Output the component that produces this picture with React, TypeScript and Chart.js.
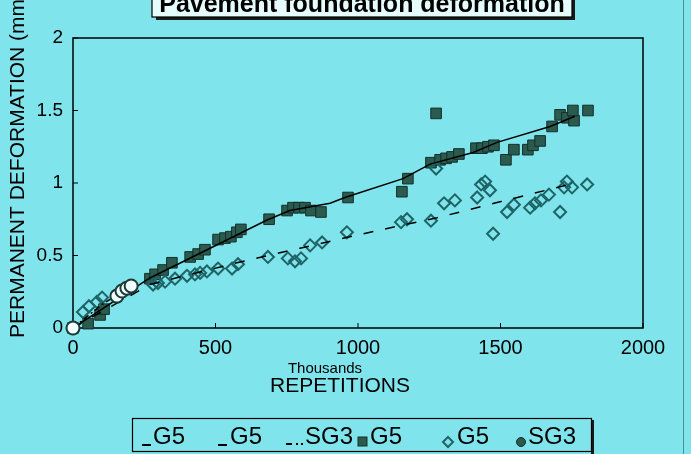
import React, { useEffect, useRef } from "react";
import { Chart, registerables } from "chart.js";

Chart.register(...registerables);

// ---- data (x in thousands of repetitions, y in mm) ----
const squareX = [0, 53, 95, 109, 270, 288, 316, 347, 411, 439, 463, 509, 533, 554, 575, 589, 688, 751, 772, 793, 814, 835, 870, 965, 1154, 1175, 1256, 1274, 1288, 1309, 1330, 1354, 1414, 1435, 1456, 1477, 1519, 1547, 1596, 1614, 1639, 1681, 1709, 1733, 1758, 1754, 1807];
const squareY = [0, 0.03, 0.09, 0.13, 0.34, 0.37, 0.40, 0.45, 0.49, 0.51, 0.54, 0.61, 0.62, 0.63, 0.66, 0.68, 0.75, 0.81, 0.83, 0.83, 0.83, 0.81, 0.80, 0.90, 0.94, 1.03, 1.14, 1.48, 1.16, 1.17, 1.18, 1.20, 1.24, 1.24, 1.25, 1.26, 1.16, 1.23, 1.23, 1.26, 1.29, 1.39, 1.47, 1.45, 1.43, 1.50, 1.50];

const diamondX = [0, 35, 56, 84, 102, 281, 298, 323, 358, 400, 428, 446, 470, 509, 558, 579, 684, 754, 779, 800, 832, 874, 961, 1151, 1172, 1256, 1274, 1302, 1340, 1418, 1432, 1446, 1463, 1474, 1523, 1547, 1604, 1621, 1642, 1670, 1709, 1723, 1733, 1751, 1804];
const diamondY = [0, 0.11, 0.15, 0.18, 0.21, 0.30, 0.31, 0.32, 0.34, 0.36, 0.37, 0.38, 0.39, 0.41, 0.41, 0.44, 0.49, 0.48, 0.46, 0.48, 0.57, 0.59, 0.66, 0.73, 0.75, 0.74, 1.10, 0.86, 0.88, 0.90, 0.99, 1.01, 0.95, 0.65, 0.80, 0.85, 0.83, 0.86, 0.88, 0.92, 0.80, 0.97, 1.01, 0.97, 0.99];

const sg3X = [0, 154, 172, 189, 204];
const sg3Y = [0, 0.22, 0.255, 0.275, 0.29];

const squareLineX = [0, 270, 481, 681, 761, 902, 954, 1158, 1253, 1404, 1488, 1674, 1761];
const squareLineY = [0, 0.345, 0.55, 0.745, 0.81, 0.86, 0.9, 1.03, 1.13, 1.21, 1.28, 1.39, 1.46];

const diamondLineX = [0, 270, 586, 796, 1063, 1277, 1498, 1761];
const diamondLineY = [0, 0.3, 0.455, 0.55, 0.67, 0.76, 0.87, 1.0];

const sg3LineX = [0, 100, 204];
const sg3LineY = [0, 0.16, 0.29];

const seriesLabels = ["G5", "G5", "SG3", "G5", "G5", "SG3"];
const xTicks = [0, 500, 1000, 1500, 2000];
const yTicks = [0, 0.5, 1, 1.5, 2];

const TITLE = "Pavement foundation deformation";
const Y_TITLE = "PERMANENT DEFORMATION (mm)";
const X_SUBTITLE = "Thousands";
const X_TITLE = "REPETITIONS";

const BG = "#80e4ec";
const FONT = "'Liberation Sans', Arial, sans-serif";

const pts = (xs: number[], ys: number[]) => xs.map((x, i) => ({ x, y: ys[i] }));

const decor = {
  id: "decor",
  beforeDraw(chart: any) {
    const c = chart.ctx;
    c.save();
    c.fillStyle = BG;
    c.fillRect(0, 0, chart.width, chart.height);
    c.restore();
  },
  beforeDatasetsDraw(chart: any) {
    const c = chart.ctx;
    const a = chart.chartArea;
    const xs = chart.scales.x;
    const ys = chart.scales.y;
    c.save();
    c.strokeStyle = "#000";
    c.lineWidth = 1.5;
    c.strokeRect(a.left, a.top, a.right - a.left, a.bottom - a.top);
    c.lineWidth = 1;
    xTicks.forEach((v) => {
      const px = xs.getPixelForValue(v);
      c.beginPath();
      c.moveTo(px, a.bottom);
      c.lineTo(px, a.bottom - 5);
      c.stroke();
    });
    yTicks.forEach((v) => {
      const py = ys.getPixelForValue(v);
      c.beginPath();
      c.moveTo(a.left, py);
      c.lineTo(a.left + 5, py);
      c.stroke();
    });
    c.restore();
  },
  afterDraw(chart: any) {
    const c = chart.ctx;
    c.save();
    c.strokeStyle = "#4d8f96";
    c.lineWidth = 1;
    c.beginPath();
    c.moveTo(683.5, 0);
    c.lineTo(683.5, chart.height);
    c.stroke();

    // title box (partly off the top)
    c.fillStyle = "#1a1a1a";
    c.fillRect(156, -10, 419, 30);
    c.fillStyle = "#e6fbfb";
    c.fillRect(152, -12, 420, 29);
    c.strokeStyle = "#000";
    c.lineWidth = 1.2;
    c.strokeRect(152, -12, 420, 29);
    c.fillStyle = "#000";
    c.font = `bold 25px ${FONT}`;
    c.textAlign = "center";
    c.textBaseline = "alphabetic";
    c.fillText(TITLE, 362, 12);

    // axis titles
    c.font = `21px ${FONT}`;
    c.save();
    c.translate(18, 165);
    c.rotate(-Math.PI / 2);
    c.textBaseline = "middle";
    c.fillText(Y_TITLE, 0, 0);
    c.restore();
    c.textBaseline = "middle";
    c.font = `15px ${FONT}`;
    c.fillText(X_SUBTITLE, 325, 369);
    c.font = `21px ${FONT}`;
    c.fillText(X_TITLE, 340, 386);

    // legend box
    c.fillStyle = "#1a1a1a";
    c.fillRect(591, 420, 3, 34);
    c.strokeStyle = "#000";
    c.lineWidth = 1.2;
    c.strokeRect(132.5, 418.5, 459, 33);

    const ds = chart.data.datasets;
    const itemX = [142, 218, 286, 358, 443, 517];
    const textX = [153, 230, 305, 370, 457, 528];
    const cy = 437;
    c.font = `24px ${FONT}`;
    c.textAlign = "left";
    c.textBaseline = "middle";
    ds.forEach((d: any, i: number) => {
      const x0 = itemX[i];
      c.strokeStyle = "#000";
      c.fillStyle = "#000";
      if (i === 0 || i === 1) {
        c.lineWidth = 2;
        c.beginPath();
        c.moveTo(x0, cy + 8);
        c.lineTo(x0 + 9, cy + 8);
        c.stroke();
      } else if (i === 2) {
        c.lineWidth = 2;
        c.beginPath();
        c.moveTo(x0, cy + 7);
        c.lineTo(x0 + 6, cy + 7);
        c.moveTo(x0 + 10, cy + 7);
        c.lineTo(x0 + 12, cy + 7);
        c.moveTo(x0 + 15, cy + 7);
        c.lineTo(x0 + 17, cy + 7);
        c.stroke();
      } else if (i === 3) {
        c.fillStyle = d.backgroundColor;
        c.fillRect(x0, cy, 9, 9);
        c.strokeStyle = d.borderColor;
        c.lineWidth = 1;
        c.strokeRect(x0, cy, 9, 9);
      } else if (i === 4) {
        c.strokeStyle = d.borderColor;
        c.lineWidth = 2;
        c.beginPath();
        c.moveTo(x0 + 5, cy);
        c.lineTo(x0 + 10, cy + 5);
        c.lineTo(x0 + 5, cy + 10);
        c.lineTo(x0, cy + 5);
        c.closePath();
        c.stroke();
      } else {
        c.fillStyle = "#2b5a4e";
        c.strokeStyle = "#14302a";
        c.lineWidth = 1;
        c.beginPath();
        c.arc(x0 + 4, cy + 5, 4.5, 0, Math.PI * 2);
        c.fill();
        c.stroke();
      }
      c.fillStyle = "#000";
      c.fillText(d.label, textX[i], cy);
    });
    c.restore();
  },
};

export default function App() {
  const ref = useRef<HTMLCanvasElement | null>(null);
  useEffect(() => {
    document.body.style.margin = "0";
    if (!ref.current) return;
    const chart = new Chart(ref.current, {
      type: "scatter",
      data: {
        datasets: [
          {
            label: seriesLabels[0],
            data: pts(squareLineX, squareLineY),
            showLine: true,
            borderColor: "#000",
            borderWidth: 1.5,
            pointRadius: 0,
            order: 1,
          },
          {
            label: seriesLabels[1],
            data: pts(diamondLineX, diamondLineY),
            showLine: true,
            borderColor: "#000",
            borderWidth: 1.5,
            borderDash: [10, 12],
            pointRadius: 0,
            order: 1,
          },
          {
            label: seriesLabels[2],
            data: pts(sg3LineX, sg3LineY),
            showLine: true,
            borderColor: "#000",
            borderWidth: 1.5,
            borderDash: [6, 3, 2, 3],
            pointRadius: 0,
            order: 1,
          },
          {
            label: seriesLabels[3],
            data: pts(squareX, squareY),
            pointStyle: "rect",
            pointRadius: 7.5,
            backgroundColor: "#2b5a4e",
            borderColor: "#14302a",
            borderWidth: 1,
            clip: false,
            order: 3,
          },
          {
            label: seriesLabels[4],
            data: pts(diamondX, diamondY),
            pointStyle: "rectRot",
            pointRadius: 6,
            backgroundColor: "rgba(0,0,0,0)",
            borderColor: "#1e6466",
            borderWidth: 2,
            clip: false,
            order: 2,
          },
          {
            label: seriesLabels[5],
            data: pts(sg3X, sg3Y),
            pointStyle: "circle",
            pointRadius: 6.5,
            backgroundColor: "#f2fefe",
            borderColor: "#1d3b36",
            borderWidth: 2,
            clip: false,
            order: 0,
          },
        ],
      },
      options: {
        animation: false,
        responsive: false,
        layout: { padding: { top: 38, right: 48, bottom: 0, left: 0 } },
        plugins: {
          legend: { display: false },
          title: { display: false },
          tooltip: { enabled: false },
        },
        scales: {
          x: {
            type: "linear",
            min: 0,
            max: 2000,
            afterFit: (s: any) => {
              s.height = 126;
            },
            afterBuildTicks: (s: any) => {
              s.ticks = xTicks.map((v) => ({ value: v }));
            },
            grid: { display: false, drawTicks: false },
            border: { display: false },
            ticks: {
              padding: 8,
              color: "#000",
              font: { family: FONT, size: 20 },
              maxRotation: 0,
              callback: (v: any) => String(v),
            },
          },
          y: {
            type: "linear",
            min: 0,
            max: 2,
            afterFit: (s: any) => {
              s.width = 73;
            },
            afterBuildTicks: (s: any) => {
              s.ticks = yTicks.map((v) => ({ value: v }));
            },
            grid: { display: false, drawTicks: false },
            border: { display: false },
            ticks: {
              padding: 10,
              color: "#000",
              font: { family: FONT, size: 19 },
              callback: (v: any) => String(v),
            },
          },
        },
      },
      plugins: [decor],
    });
    return () => chart.destroy();
  }, []);
  return (
    <div style={{ width: 691, height: 454 }}>
      <canvas ref={ref} width={691} height={454} style={{ display: "block" }} />
    </div>
  );
}
